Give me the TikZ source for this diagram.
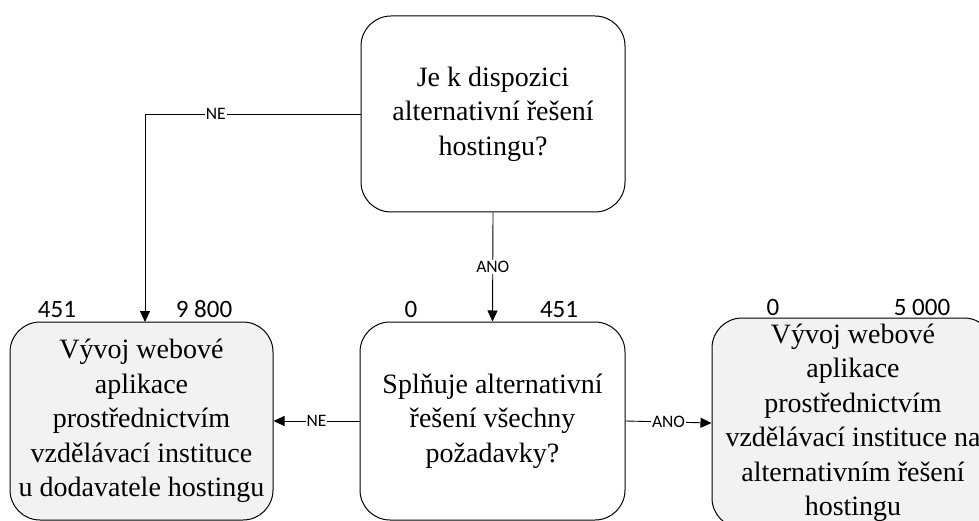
\documentclass[tikz,border=0pt]{standalone}
\usepackage{fontspec}
\setmainfont{Liberation Serif}
\newfontfamily\numfont{Carlito}
\usetikzlibrary{arrows.meta}

\tikzset{
  box/.style={draw, line width=1pt, rounded corners=30pt, align=center,
    inner sep=0pt, font=\fontsize{28}{34.5}\selectfont},
  greybox/.style={box, fill=black!5},
  link/.style={line width=0.9pt},
  arr/.style={link, -{Triangle[length=11pt,width=10pt]}},
  lbl/.style={fill=white, inner sep=1pt, font=\numfont\fontsize{17.5}{19}\selectfont},
  num/.style={anchor=base, inner sep=0pt, font=\numfont\fontsize{25}{29}\selectfont}
}

\begin{document}
\begin{tikzpicture}[x=1pt, y=-1pt]
  \useasboundingbox (0,0) rectangle (979,521);
  \clip (0,0) rectangle (979,521);

  % decision boxes
  \node[box, minimum width=264pt, minimum height=196pt] (q1) at (493,114)
    {Je k dispozici\\alternativní řešení\\hostingu?};
  \node[box, minimum width=265pt, minimum height=198pt] (q2) at (492.5,421)
    {Splňuje alternativní\\řešení všechny\\požadavky?};

  % outcome boxes
  \node[greybox, minimum width=263pt, minimum height=198pt] (dod) at (141.5,421)
    {Vývoj webové\\aplikace\\prostřednictvím\\vzdělávací instituce\\u dodavatele hostingu};
  \node[greybox, minimum width=282pt, minimum height=210pt] (alt) at (853,423)
    {Vývoj webové\\aplikace\\prostřednictvím\\vzdělávací instituce na\\alternativním řešení\\hostingu};

  % connectors
  \coordinate (dodtop) at (145,322);
  \draw[arr] (q1.west) -| node[lbl, pos=0.336] {NE} (dodtop);
  \draw[arr] (q1.south) -- node[lbl, pos=0.5] {ANO} (q2.north);
  \draw[arr] (q2.west) -- node[lbl, pos=0.5] {NE} (dod.east);
  \draw[arr] (q2.east) -- node[lbl, pos=0.5] {ANO} (alt.west);

  % values above the boxes
  \node[num] (n1) at (57,317) {451};
  \node[num] (n2) at (204,317) {9 800};
  \node[num] (n3) at (411,317) {0};
  \node[num] (n4) at (559,317) {451};
  \node[num] (n5) at (773,315) {0};
  \node[num] (n6) at (922,315) {5 000};
\end{tikzpicture}
\end{document}
